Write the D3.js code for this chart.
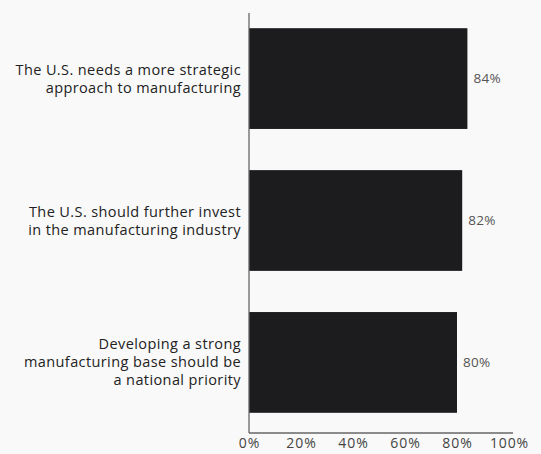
<!DOCTYPE html>
<html>
<head>
<meta charset="utf-8">
<script src="https://cdn.jsdelivr.net/npm/d3@7"></script>
<style>
  html, body { margin: 0; padding: 0; background: #f9f9f9; }
  svg { display: block; }
  text { font-family: "Open Sans", "Noto Sans", sans-serif; }
</style>
</head>
<body>
<svg id="chart" width="541" height="454"></svg>
<script>
// Survey statements (each line of a label is its own entry)
const statements = [
  ["The U.S. needs a more strategic", "approach to manufacturing"],
  ["The U.S. should further invest", "in the manufacturing industry"],
  ["Developing a strong", "manufacturing base should be", "a national priority"]
];
// Share of respondents agreeing (%)
const agreement = [84, 82, 80];
// Axis tick values (%)
const tickValues = [0, 20, 40, 60, 80, 100];

const svg = d3.select("#chart");
const ids = statements.map((d, i) => i);

const x = d3.scaleLinear().domain([0, 100]).range([249, 509]);
const y = d3.scaleBand().domain(ids).range([14, 427]).paddingInner(0.29).paddingOuter(0.1);

// Bars
svg.append("g").selectAll("rect")
  .data(ids)
  .join("rect")
  .attr("x", x(0))
  .attr("y", i => y(i))
  .attr("width", i => x(agreement[i]) - x(0))
  .attr("height", y.bandwidth())
  .attr("fill", "#1c1c1f");

// Value labels
svg.append("g").selectAll("text")
  .data(ids)
  .join("text")
  .attr("x", i => x(agreement[i]) + 6)
  .attr("y", i => y(i) + y.bandwidth() / 2)
  .attr("dy", "0.35em")
  .attr("font-size", 13.5)
  .attr("letter-spacing", 0.3)
  .attr("fill", "#555")
  .text(i => agreement[i] + "%");

// Category labels, right-aligned against the axis
const lineH = 18;
const labels = svg.append("g").selectAll("text")
  .data(ids)
  .join("text")
  .attr("text-anchor", "end")
  .attr("font-size", 14.5)
  .attr("letter-spacing", 0.4)
  .attr("fill", "#222");
labels.each(function(i) {
  const lines = statements[i];
  const cy = y(i) + y.bandwidth() / 2;
  const start = cy - (lines.length - 1) * lineH / 2;
  d3.select(this).selectAll("tspan")
    .data(lines)
    .join("tspan")
    .attr("x", 241)
    .attr("y", (d, k) => start + k * lineH)
    .attr("dy", "0.35em")
    .text(d => d);
});

// Axes
const axisColor = "#666";
svg.append("line")
  .attr("x1", x(0)).attr("x2", x(0))
  .attr("y1", 13).attr("y2", 433)
  .attr("stroke", axisColor).attr("stroke-width", 1.3);
svg.append("line")
  .attr("x1", x(0)).attr("x2", x(100) + 4)
  .attr("y1", 433).attr("y2", 433)
  .attr("stroke", axisColor).attr("stroke-width", 1.3);

const xAxis = svg.append("g")
  .attr("transform", "translate(0,433)")
  .call(d3.axisBottom(x).tickValues(tickValues).tickSize(0).tickPadding(5).tickFormat(d => d + "%"));
xAxis.select(".domain").remove();
xAxis.selectAll("text")
  .attr("font-size", 14)
  .attr("letter-spacing", 0.9)
  .attr("fill", "#444")
  .style("font-family", "'Open Sans', 'Noto Sans', sans-serif");
</script>
</body>
</html>
